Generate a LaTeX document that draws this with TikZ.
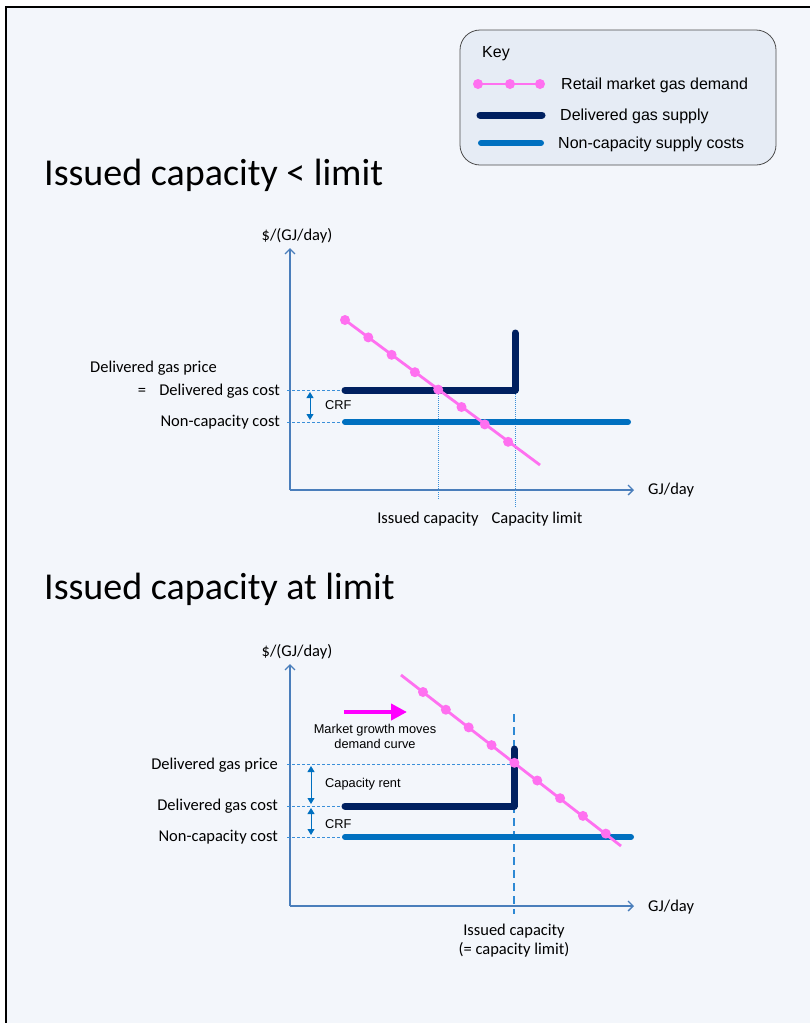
\documentclass[tikz,border=0pt]{standalone}
\usepackage{fontspec}
\setmainfont{Carlito}
\newfontfamily\arialfont{Liberation Sans}
\usetikzlibrary{arrows.meta}

\definecolor{bgfill}{HTML}{F3F6FB}
\definecolor{keyfill}{HTML}{E6ECF5}
\definecolor{axisblue}{HTML}{4A7EBB}
\definecolor{navy}{HTML}{002060}
\definecolor{ncblue}{HTML}{0070C0}
\definecolor{demandpink}{HTML}{FF70F0}
\definecolor{guideblue}{HTML}{3A8FD9}
\definecolor{growth}{HTML}{FF00FF}

\begin{document}
\begin{tikzpicture}[x=1pt, y=-1pt,
    axis/.style={axisblue, line width=1.3pt, -{Straight Barb[length=5pt, width=10pt]}},
    demand/.style={demandpink, line width=2.8pt},
    dot/.style={circle, fill=demandpink, inner sep=0pt, minimum size=10pt},
    supply/.style={navy, line width=7pt, line cap=round, line join=round},
    noncap/.style={ncblue, line width=6pt, line cap=round},
    guide/.style={guideblue, line width=0.7pt, dash pattern=on 3pt off 2pt},
    drop/.style={guideblue, line width=0.7pt, dash pattern=on 1pt off 1pt},
    span/.style={ncblue, line width=1pt, {Triangle[length=6pt, width=7pt]}-{Triangle[length=6pt, width=7pt]}},
    lbl/.style={font=\fontsize{16.5}{19}\selectfont, inner sep=0pt},
    keytext/.style={font=\arialfont\fontsize{16}{18}\selectfont, anchor=west, inner sep=0pt},
    small/.style={font=\arialfont\fontsize{12.8}{15}\selectfont, inner sep=0pt},
    title/.style={font=\fontsize{38}{41}\selectfont, inner sep=0pt, anchor=west}]
    \useasboundingbox (0,0) rectangle (809,1023);

    % frame
    \fill[bgfill] (6,7) rectangle (812,1026);
    \draw[black, line width=1.4pt] (6,1026) -- (6,7) -- (812,7);

    % Key
    \draw[black!70, line width=0.8pt, fill=keyfill, rounded corners=20pt] (460,30) rectangle (776,165);
    \node[keytext] (keytitle) at (482,54) {Key};
    \coordinate (kd1) at (478,84);
    \coordinate (kd2) at (540,84);
    \draw[demand] (kd1) -- (kd2);
    \foreach \x in {478,510,540} \node[dot] at (\x,84) {};
    \node[keytext] (kdemand) at (561,85) {Retail market gas demand};
    \coordinate (ks1) at (480,115);
    \coordinate (ks2) at (542,115);
    \draw[supply] (ks1) -- (ks2);
    \node[keytext] (ksupply) at (560,116) {Delivered gas supply};
    \coordinate (kn1) at (481,143);
    \coordinate (kn2) at (541,143);
    \draw[noncap] (kn1) -- (kn2);
    \node[keytext] (knoncap) at (558,144) {Non-capacity supply costs};

    % ---------- Issued capacity < limit ----------
    \node[title] (titleA) at (44,175) {Issued capacity < limit};

    \coordinate (originA) at (290,490);
    \coordinate (ytopA) at (290,248);
    \coordinate (xendA) at (634,490);
    \draw[axis] (originA) -- (ytopA);
    \draw[axis] (originA) -- (xendA);
    \node[lbl] (yunitA) at (297,236) {\$/(GJ/day)};
    \node[lbl, anchor=west] (xunitA) at (648,490) {GJ/day};

    % guides
    \draw[guide] (287,390) -- (345,390);
    \draw[guide] (287,422) -- (345,422);
    \draw[drop] (438,390) -- (438,500);
    \draw[drop] (515,390) -- (515,507);

    % supply and costs
    \draw[noncap] (345,422) -- (628,422);
    \draw[supply] (345,390) -- (515,390) -- (515,333);

    % demand
    \draw[demand] (345,320) -- (540,465);
    \foreach \i in {0,...,7} \node[dot] at (345+23.3*\i,320+17.4*\i) {};

    % CRF
    \draw[span] (310,392) -- (310,420);
    \node[small, anchor=west] (crfA) at (325,405) {CRF};

    \node[lbl, anchor=west] (priceA) at (90,368) {Delivered gas price};
    \node[lbl] (eqA) at (142,392) {=};
    \node[lbl, anchor=east] (costA) at (280,391) {Delivered gas cost};
    \node[lbl, anchor=east] (ncA) at (280,422) {Non-capacity cost};
    \node[lbl] (issuedA) at (428,519) {Issued capacity};
    \node[lbl] (limitA) at (537,519) {Capacity limit};

    % ---------- Issued capacity at limit ----------
    \node[title] (titleB) at (44,589) {Issued capacity at limit};

    \coordinate (originB) at (290,906);
    \coordinate (ytopB) at (290,664);
    \coordinate (xendB) at (634,906);
    \draw[axis] (originB) -- (ytopB);
    \draw[axis] (originB) -- (xendB);
    \node[lbl] (yunitB) at (297,652) {\$/(GJ/day)};
    \node[lbl, anchor=west] (xunitB) at (648,907) {GJ/day};

    % guides
    \draw[guide] (287,764) -- (514,764);
    \draw[guide] (287,806) -- (345,806);
    \draw[guide] (287,837) -- (345,837);
    \draw[guideblue!80!ncblue, line width=1.3pt, dash pattern=on 8pt off 5pt] (514,714) -- (514,914);

    % supply and costs
    \draw[noncap] (345,837) -- (631,837);
    \draw[supply] (345,806) -- (514,806) -- (514,749);

    % demand
    \draw[demand] (401,675) -- (621,846);
    \foreach \i in {0,...,8} \node[dot] at (423+22.85*\i,692+17.7*\i) {};

    % market growth
    \draw[growth, line width=4.5pt, -{Triangle[length=16pt, width=16pt]}] (344,712) -- (407,712);
    \node[small, align=center] (growthB) at (375,736) {Market growth moves\\demand curve};

    % rent and CRF
    \draw[span] (311,766) -- (311,804);
    \draw[span] (311,808) -- (311,835);
    \node[small, anchor=west] (rentB) at (325,784) {Capacity rent};
    \node[small, anchor=west] (crfB) at (325,824) {CRF};

    \node[lbl, anchor=east] (priceB) at (278,765) {Delivered gas price};
    \node[lbl, anchor=east] (costB) at (278,806) {Delivered gas cost};
    \node[lbl, anchor=east] (ncB) at (278,837) {Non-capacity cost};
    \node[lbl, align=center] (issuedB) at (514,941) {Issued capacity\\(= capacity limit)};
\end{tikzpicture}
\end{document}
